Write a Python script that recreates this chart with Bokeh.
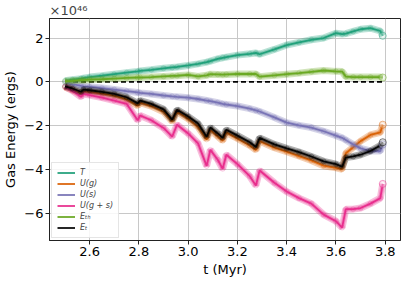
from bokeh.plotting import figure
from bokeh.models import Range1d, FixedTicker, Legend, LegendItem, NumeralTickFormatter
from bokeh.embed import file_html
from bokeh.resources import INLINE

# ---- data (energies in units of 1e46 erg) ----
t = [2.50, 2.53, 2.565, 2.575, 2.60, 2.65, 2.70, 2.75, 2.795, 2.805, 2.85, 2.90,
     2.935, 2.955, 3.00, 3.04, 3.075, 3.09, 3.12, 3.14, 3.155, 3.20, 3.25, 3.275,
     3.29, 3.35, 3.40, 3.45, 3.50, 3.55, 3.60, 3.625, 3.64, 3.67, 3.70, 3.74, 3.78, 3.79]

T = [0.05, 0.10, 0.15, 0.17, 0.22, 0.28, 0.35, 0.42, 0.48, 0.50, 0.55, 0.62,
     0.66, 0.68, 0.75, 0.82, 0.90, 0.95, 1.05, 1.10, 1.13, 1.22, 1.28, 1.32,
     1.26, 1.48, 1.68, 1.80, 1.92, 2.00, 2.22, 2.18, 2.20, 2.30, 2.40, 2.45, 2.32, 2.10]

U_g = [-0.24, -0.36, -0.53, -0.43, -0.46, -0.53, -0.63, -0.80, -1.08, -0.95, -1.10, -1.36,
       -1.80, -1.36, -1.68, -2.05, -2.62, -2.20, -2.48, -2.68, -2.30, -2.58, -2.90, -3.10,
       -2.70, -3.00, -3.18, -3.38, -3.58, -3.82, -3.92, -3.98, -3.25, -2.98, -2.70, -2.42, -2.30, -1.95]

U_s = [-0.02, -0.10, -0.18, -0.20, -0.22, -0.28, -0.35, -0.42, -0.48, -0.50, -0.55, -0.62,
       -0.66, -0.68, -0.72, -0.78, -0.85, -0.88, -0.95, -1.00, -1.03, -1.10, -1.22, -1.30,
       -1.35, -1.62, -1.86, -1.98, -2.08, -2.25, -2.45, -2.55, -2.65, -2.85, -3.03, -3.15, -3.15, -2.85]

U_gs = [-0.22, -0.40, -0.68, -0.55, -0.60, -0.72, -0.85, -1.00, -1.75, -1.53, -1.75, -2.10,
        -2.50, -1.95, -2.35, -2.80, -3.83, -3.10, -3.55, -3.96, -3.32, -3.75, -4.30, -4.72,
        -4.04, -4.60, -5.00, -5.30, -5.55, -6.05, -6.35, -6.64, -5.80, -5.80, -5.75, -5.55, -5.30, -4.65]

E_th = [0.03, 0.05, 0.08, 0.08, 0.10, 0.12, 0.15, 0.18, 0.20, 0.20, 0.22, 0.25,
        0.27, 0.28, 0.32, 0.25, 0.30, 0.35, 0.34, 0.33, 0.34, 0.36, 0.36, 0.36,
        0.24, 0.30, 0.35, 0.40, 0.46, 0.52, 0.48, 0.47, 0.24, 0.22, 0.22, 0.22, 0.22, 0.20]

E_t = [-0.20, -0.30, -0.45, -0.35, -0.38, -0.45, -0.55, -0.70, -0.98, -0.85, -1.00, -1.25,
       -1.72, -1.27, -1.58, -1.90, -2.50, -2.08, -2.35, -2.55, -2.18, -2.45, -2.75, -2.97,
       -2.55, -2.85, -3.03, -3.20, -3.40, -3.62, -3.75, -3.87, -3.45, -3.40, -3.32, -3.15, -2.90, -2.75]

baseline = [0.0, 0.0]

labels = ["T", "U(g)", "U(s)", "U(g + s)", "Eₜₕ", "Eₜ"]
series = [T, U_g, U_s, U_gs, E_th, E_t]
colors = ["#1b9e77", "#d95f02", "#7570b3", "#e7298a", "#66a61e", "#000000"]

x_ticks = [2.6, 2.8, 3.0, 3.2, 3.4, 3.6, 3.8]
y_ticks = [-6, -4, -2, 0, 2]
y_tick_labels = ["−6", "−4", "−2", "0", "2"]

FONT = "DejaVu Sans"

p = figure(width=405, height=279, output_backend="svg", toolbar_location=None,
           x_range=Range1d(2.437, 3.862), y_range=Range1d(-7.23, 2.89),
           title="×10⁴⁶", min_border_left=2, min_border_right=5, min_border_top=1,
           min_border_bottom=2)
p.background_fill_color = "white"
p.border_fill_color = "white"
p.outline_line_color = "#222222"
p.outline_line_width = 1

p.title.text_font = FONT
p.title.text_font_size = "13px"
p.title.text_font_style = "normal"
p.title.align = "left"
p.title.offset = 0
p.title.standoff = 1

p.xgrid.grid_line_color = "#c8c8c8"
p.ygrid.grid_line_color = "#c8c8c8"
p.xgrid.grid_line_width = 1
p.ygrid.grid_line_width = 1

p.xaxis.ticker = FixedTicker(ticks=x_ticks)
p.xaxis.formatter = NumeralTickFormatter(format="0.0")
p.yaxis.ticker = FixedTicker(ticks=y_ticks)
p.yaxis.major_label_overrides = {v: s for v, s in zip(y_ticks, y_tick_labels)}
for ax in (p.xaxis, p.yaxis):
    ax.major_label_text_font = FONT
    ax.major_label_text_font_size = "13px"
    ax.major_label_text_color = "black"
    ax.axis_label_text_font = FONT
    ax.axis_label_text_font_size = "13px"
    ax.axis_label_text_font_style = "normal"
    ax.axis_label_text_color = "black"
    ax.minor_tick_line_color = None
    ax.major_tick_in = 0
    ax.major_tick_out = 4
    ax.major_tick_line_color = "#222222"
    ax.axis_line_color = "#222222"
    ax.axis_label_standoff = 3
    ax.major_label_standoff = 2
p.xaxis.axis_label = "t (Myr)"
p.yaxis.axis_label = "Gas Energy (ergs)"

# zero reference line
p.line([t[0], t[-1]], baseline, line_color="black", line_width=1.6, line_dash="5 3")

items = []
for lab, ys, c in zip(labels, series, colors):
    p.line(t, ys, line_color=c, line_width=7, line_alpha=0.3)
    p.line(t, ys, line_color=c, line_width=4, line_alpha=0.35)
    p.scatter(t, ys, marker="circle", size=5, line_color=c, line_alpha=0.2,
              fill_color=c, fill_alpha=0.08)
    r = p.line(t, ys, line_color=c, line_width=1.8, line_alpha=0.95)
    items.append(LegendItem(label=lab, renderers=[r]))

# open end markers
for ys, c in zip(series, colors):
    p.scatter([t[-1]], [ys[-1]], marker="circle", size=7, line_color=c,
              line_alpha=0.5, fill_color="white", fill_alpha=0.3)

legend = Legend(items=items, location="bottom_left")
legend.label_text_font = FONT
legend.label_text_font_size = "8px"
legend.label_text_font_style = "italic"
legend.glyph_width = 18
legend.glyph_height = 9
legend.label_height = 9
legend.label_standoff = 5
legend.spacing = 2
legend.padding = 5
legend.margin = 2
legend.border_line_color = "#cccccc"
legend.border_line_width = 1
legend.background_fill_alpha = 0.85
p.add_layout(legend)

open("out.html", "w").write(file_html(p, INLINE))
